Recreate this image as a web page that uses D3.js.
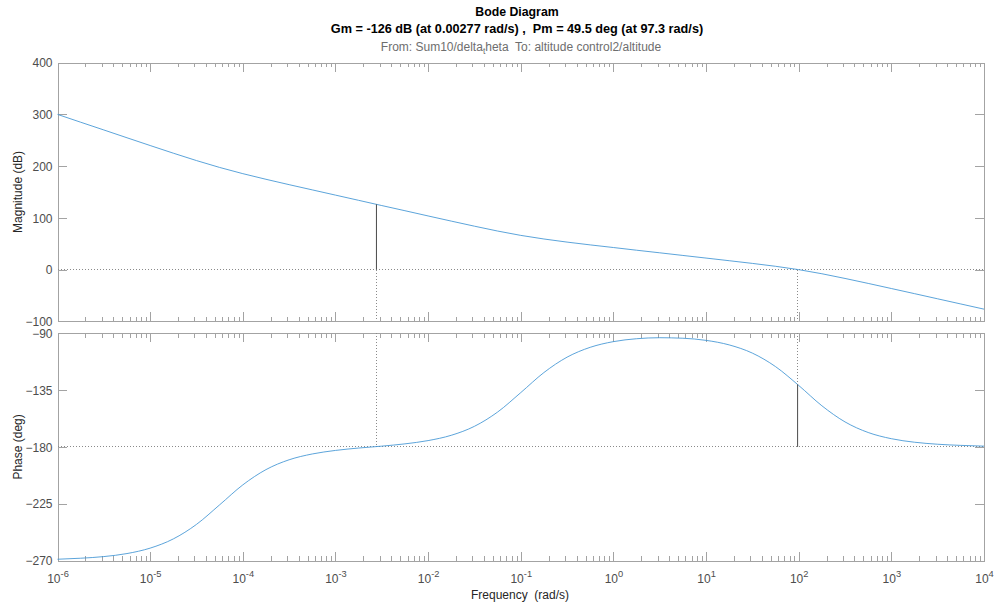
<!DOCTYPE html>
<html><head><meta charset="utf-8">
<script src="https://cdn.jsdelivr.net/npm/d3@7/dist/d3.min.js"></script>
<style>
body{margin:0;background:#fff}
svg{display:block}
text{font-family:"Liberation Sans",Arial,Helvetica,sans-serif}
</style>
</head><body>
<svg id="chart" width="997" height="608"></svg>
<script>
// ---------- data ----------
const freqExp = [-6,-5.75,-5.5,-5.25,-5,-4.75,-4.5,-4.25,-4,-3.75,-3.5,-3.25,-3,-2.75,-2.5,-2.25,-2,-1.75,-1.5,-1.25,-1,-0.75,-0.5,-0.25,0,0.25,0.5,0.75,1,1.25,1.5,1.75,2,2.25,2.5,2.75,3,3.25,3.5,3.75,4];
const magnitudeDb = [300.0,284.9,269.9,254.8,239.8,225.0,210.7,197.4,185.4,174.5,164.1,154.0,143.9,133.8,123.7,113.7,103.6,93.6,83.8,74.4,66.0,59.0,53.0,47.6,42.5,37.3,32.3,27.2,22.1,17.0,11.8,6.2,-0.3,-8.2,-17.3,-26.9,-36.8,-46.7,-56.7,-66.7,-76.7];
const phaseDeg = [-269.0,-268.2,-266.9,-264.5,-260.2,-252.9,-241.4,-225.9,-210.1,-198.0,-190.2,-185.6,-182.8,-180.9,-179.4,-177.6,-175.0,-170.8,-163.7,-152.4,-137.0,-121.1,-108.9,-101.1,-96.6,-94.3,-93.5,-93.9,-95.6,-99.2,-105.7,-116.4,-131.3,-147.4,-160.2,-168.6,-173.5,-176.3,-177.9,-178.8,-179.4];
const magTicks = [-100,0,100,200,300,400];
const phaseTicks = [-270,-225,-180,-135,-90];
const decadeExps = [-6,-5,-4,-3,-2,-1,0,1,2,3,4];
const minorMultipliers = [2,3,4,5,6,7,8,9];
const gmFreq = 0.00277, gmMag = 126;      // gain margin marker
const pmFreq = 97.3, pmPhase = -130.5;    // phase margin marker
const titleText = "Bode Diagram";
const marginText = "Gm = -126 dB (at 0.00277 rad/s) ,  Pm = 49.5 deg (at 97.3 rad/s)";
const ioTextA = "From: Sum10/delta", ioSub = "t", ioTextB = "heta  To: altitude control2/altitude";
const magLabel = "Magnitude (dB)", phaseLabel = "Phase (deg)", freqLabel = "Frequency  (rad/s)";

// ---------- layout ----------
const svg = d3.select("#chart");
const L = 57.5, R = 984;
const magTop = 62.7, magBot = 321.2, phTop = 333.3, phBot = 560.5;
const AX = "#a3a3a3", TXT = "#4d4d4d";

const x = d3.scaleLog().domain([1e-6, 1e4]).range([L, R]);
const yMag = d3.scaleLinear().domain([-100, 400]).range([magBot, magTop]);
const yPh = d3.scaleLinear().domain([-270, -90]).range([phBot, phTop]);

const majorVals = decadeExps.map(e => Math.pow(10, e));
const minorVals = [];
decadeExps.slice(0, -1).forEach(e => minorMultipliers.forEach(m => minorVals.push(m * Math.pow(10, e))));

function styleAxis(g) {
  g.selectAll("path.domain").attr("stroke", AX).attr("stroke-width", 1).attr("shape-rendering", "crispEdges");
  g.selectAll(".tick line").attr("stroke", AX).attr("stroke-width", 1).attr("shape-rendering", "crispEdges");
  g.selectAll(".tick text").attr("fill", TXT).style("font-size", "12px");
}

function xAxes(yPos, isTop) {
  const mk = isTop ? d3.axisTop : d3.axisBottom;
  const gMaj = svg.append("g").attr("transform", `translate(0,${yPos})`)
    .call(mk(x).tickValues(majorVals).tickSize(-9).tickSizeOuter(0).tickFormat(""));
  styleAxis(gMaj);
  const gMin = svg.append("g").attr("transform", `translate(0,${yPos})`)
    .call(mk(x).tickValues(minorVals).tickSize(-4.5).tickSizeOuter(0).tickFormat(""));
  styleAxis(gMin);
  return gMaj;
}
function yAxes(scale, ticks) {
  const gl = svg.append("g").attr("transform", `translate(${L},0)`)
    .call(d3.axisLeft(scale).tickValues(ticks).tickSize(-9).tickSizeOuter(0).tickPadding(5));
  styleAxis(gl);
  gl.selectAll(".tick text").attr("dy", "0.35em");
  const gr = svg.append("g").attr("transform", `translate(${R},0)`)
    .call(d3.axisRight(scale).tickValues(ticks).tickSize(-9).tickSizeOuter(0).tickFormat(""));
  styleAxis(gr);
}

// magnitude panel
xAxes(magTop, true);
xAxes(magBot, false);
yAxes(yMag, magTicks);
// phase panel
xAxes(phTop, true);
const gBottom = xAxes(phBot, false);
yAxes(yPh, phaseTicks);

// x tick labels 10^n
gBottom.selectAll(".tick").each(function(d) {
  const e = Math.round(Math.log10(d));
  const t = d3.select(this).append("text").attr("fill", TXT).attr("text-anchor", "middle").attr("y", 22.5).style("font-size", "12px");
  t.append("tspan").text("10");
  t.append("tspan").attr("dy", -5.7).style("font-size", "9.3px").text(String(e));
});

// reference lines (dotted)
const dot = "1,2", DOTC = "#8a8a8a";
function dline(x1, y1, x2, y2) {
  svg.append("line").attr("x1", x1).attr("y1", y1).attr("x2", x2).attr("y2", y2)
    .attr("stroke", DOTC).attr("stroke-width", 1).attr("stroke-dasharray", dot).attr("shape-rendering", "crispEdges");
}
dline(L, yMag(0), R, yMag(0));
dline(L, yPh(-180), R, yPh(-180));
dline(x(gmFreq), yMag(0), x(gmFreq), magBot);
dline(x(gmFreq), phTop, x(gmFreq), yPh(-180));
dline(x(pmFreq), yMag(0), x(pmFreq), magBot);
dline(x(pmFreq), phTop, x(pmFreq), yPh(pmPhase));

// curves
const line = d3.line().curve(d3.curveMonotoneX);
const magPts = freqExp.map((e, i) => [x(Math.pow(10, e)), yMag(magnitudeDb[i])]);
const phPts = freqExp.map((e, i) => [x(Math.pow(10, e)), yPh(phaseDeg[i])]);
const CURVE = "#3f93d3";
svg.append("path").attr("d", line(magPts)).attr("fill", "none").attr("stroke", CURVE).attr("stroke-width", 0.85);
svg.append("path").attr("d", line(phPts)).attr("fill", "none").attr("stroke", CURVE).attr("stroke-width", 0.85);

// margin markers (solid)
function sline(x1, y1, x2, y2) {
  svg.append("line").attr("x1", x1).attr("y1", y1).attr("x2", x2).attr("y2", y2)
    .attr("stroke", "#4a4a4a").attr("stroke-width", 1);
}
sline(x(gmFreq), yMag(0), x(gmFreq), yMag(gmMag));
sline(x(pmFreq), yPh(-180), x(pmFreq), yPh(pmPhase));

// titles
svg.append("text").attr("x", 517).attr("y", 16).attr("text-anchor", "middle")
  .style("font-size", "12.3px").style("font-weight", "bold").attr("fill", "#000").text(titleText);
svg.append("text").attr("x", 517).attr("y", 32.5).attr("text-anchor", "middle")
  .style("font-size", "12.7px").style("font-weight", "bold").style("white-space", "pre").attr("fill", "#000").text(marginText);
const io = svg.append("text").attr("x", 521).attr("y", 50.5).attr("text-anchor", "middle")
  .style("font-size", "12px").style("white-space", "pre").attr("fill", "#6e6e6e");
io.append("tspan").text(ioTextA);
io.append("tspan").attr("dy", 3).style("font-size", "8.5px").text(ioSub);
io.append("tspan").attr("dy", -3).text(ioTextB);

// axis labels
svg.append("text").attr("transform", `translate(22,${(magTop + magBot) / 2}) rotate(-90)`).attr("text-anchor", "middle")
  .style("font-size", "12px").attr("fill", "#262626").text(magLabel);
svg.append("text").attr("transform", `translate(22,${(phTop + phBot) / 2}) rotate(-90)`).attr("text-anchor", "middle")
  .style("font-size", "12px").attr("fill", "#262626").text(phaseLabel);
svg.append("text").attr("x", 520).attr("y", 598.5).attr("text-anchor", "middle").style("white-space", "pre")
  .style("font-size", "12px").attr("fill", "#262626").text(freqLabel);
</script>
</body></html>
